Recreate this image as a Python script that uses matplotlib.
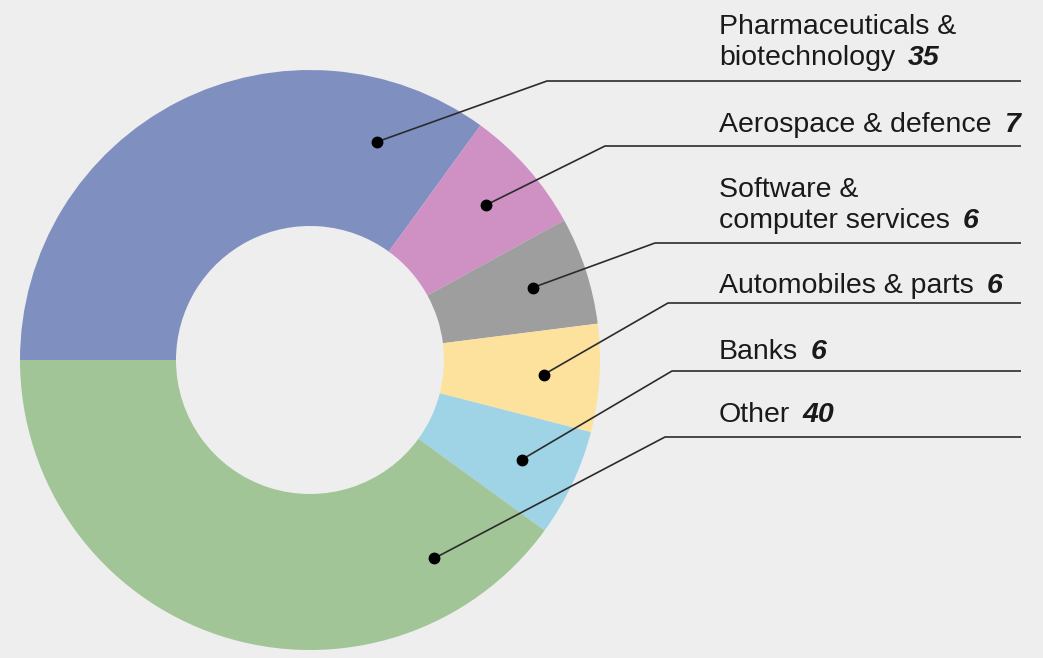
import numpy as np
import matplotlib.pyplot as plt

# share of companies by sector
sectors = [["Pharmaceuticals &", "biotechnology"],
           ["Aerospace & defence"],
           ["Software &", "computer services"],
           ["Automobiles & parts"],
           ["Banks"],
           ["Other"]]
values = [35, 7, 6, 6, 6, 40]
colors = ["#7f8fc0", "#cf90c4", "#9d9e9d", "#fde29e", "#9fd4e7", "#a1c596"]

# dot angle inside the ring (None -> middle of the wedge)
dot_angles = [73, None, None, None, None, -58]
# label rule heights (pixels from top), elbow x of leader lines, text gap above rule
rule_y = [81, 146, 243, 303, 371, 437]
elbow_x = [547, 605, 655, 668, 672, 665]
text_gap = [16, 14, 15, 10, 12, 15]

W, H = 1043, 658
bg = "#eeeeee"
plt.rcParams['font.family'] = ['Liberation Sans', 'DejaVu Sans']

fig = plt.figure(figsize=(W / 100, H / 100), dpi=100, facecolor=bg)
ax = fig.add_axes([0, 0, 1, 1])
ax.set_facecolor(bg)

cx, cy = 310, H - 360
r_out, r_in = 290, 134
wedges, _ = ax.pie(values, colors=colors, startangle=180, counterclock=False,
                   radius=r_out, center=(cx, cy),
                   wedgeprops=dict(width=r_out - r_in, linewidth=0))

ax.set_xlim(0, W)
ax.set_ylim(0, H)
ax.set_aspect('equal')
ax.axis('off')

fs = 20.5
text_x = 719
line_end = 1021
r_dot = 234

for i, w in enumerate(wedges):
    ang = dot_angles[i]
    if ang is None:
        ang = (w.theta1 + w.theta2) / 2
    rd = r_dot - 6 if i == 0 else r_dot
    dx = cx + rd * np.cos(np.radians(ang))
    dy = cy + rd * np.sin(np.radians(ang))
    ly = H - rule_y[i]
    ax.plot([dx, elbow_x[i], line_end], [dy, ly, ly], color="#2b2b2b", lw=1.2,
            solid_capstyle='butt', zorder=3)
    ax.plot(dx, dy, 'o', color="black", ms=7.5, zorder=4)

    lines = sectors[i]
    base = ly + text_gap[i]
    t = None
    for k, s in enumerate(lines):
        by = base + (len(lines) - 1 - k) * 31
        t = ax.text(text_x, by, s, fontsize=fs, color="#1a1a1a", va='baseline', ha='left')
    ax.annotate(str(values[i]), xy=(1, base), xycoords=(t, 'data'),
                xytext=(9, 0), textcoords='offset points',
                fontsize=fs, fontweight='bold', fontstyle='italic',
                color="#1a1a1a", va='baseline', ha='left')

fig.savefig("out.png", dpi=100, facecolor=bg)
